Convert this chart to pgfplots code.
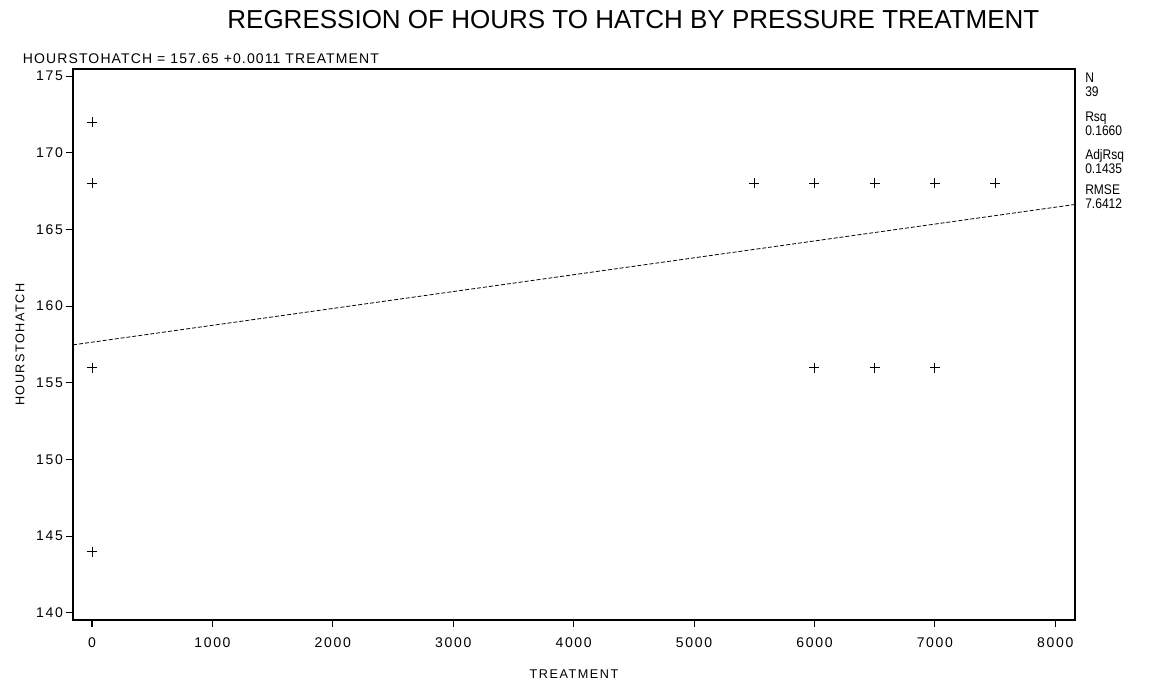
\documentclass[border=0pt]{standalone}
\usepackage{fontspec}
\setmainfont{Liberation Sans}
\usepackage{graphicx}
\usepackage{pgfplots}
\pgfplotsset{compat=1.18}
\newfontfamily\spaced[LetterSpace=12]{Liberation Sans}
\newfontfamily\spacedb[LetterSpace=8]{Liberation Sans}
\begin{document}
\begin{tikzpicture}[x=1pt,y=1pt]
% canvas 1153x684 px -> 864.75 x 513 pt (1px = 0.75pt)
\path[use as bounding box] (0,0) rectangle (864.75,513);
\begin{axis}[
  at={(54.75pt,48pt)}, anchor=south west,
  scale only axis, width=751.5pt, height=413.25pt,
  xmin=-158, xmax=8164, ymin=139.54, ymax=175.46,
  xtick={0,1000,...,8000}, ytick={140,145,...,175},
  axis line style={line width=0.9pt},
  tick style={black, line width=0.8pt},
  tick align=outside, major tick length=5pt,
  xtick pos=bottom, ytick pos=left,
  /pgf/number format/assume math mode=true,
  /pgf/number format/1000 sep={},
  tick label style={font=\spaced\fontsize{10.5}{12}\selectfont},
  xticklabel style={yshift=-4.5pt},
  yticklabel style={xshift=1pt},
  xlabel={TREATMENT}, ylabel={HOURSTOHATCH},
  label style={font=\spaced\fontsize{9.5}{11}\selectfont},
  xlabel style={yshift=-10pt},
  ylabel style={yshift=2pt},
  clip=true,
]
\addplot[only marks, mark=+, mark size=3.75pt, black, line width=0.6pt] coordinates {
 (0,172) (0,168) (0,156) (0,144)
 (5500,168) (6000,168) (6500,168) (7000,168) (7500,168)
 (6000,156) (6500,156) (7000,156)
};
\addplot[black, line width=0.6pt, dash pattern=on 3pt off 1.5pt] coordinates {(-158,157.476) (8164,166.630)};
\end{axis}
\node[font=\fontsize{19.5}{22}\selectfont, anchor=center] at (475,498) {REGRESSION OF HOURS TO HATCH BY PRESSURE TREATMENT};
\node[font=\spacedb\fontsize{10.5}{12}\selectfont, anchor=base west, inner sep=0pt] at (17,465.5) {HOURSTOHATCH = 157.65 +0.0011 TREATMENT};
\begin{scope}[every node/.style={font=\fontsize{9.5}{10}\selectfont, anchor=base west, inner sep=0pt}]
\node at (813.75,450.75) {\scalebox{0.95}[1.1]{N}};
\node at (813.75,440.25) {\scalebox{0.95}[1.1]{39}};
\node at (813.75,421.5) {\scalebox{0.95}[1.1]{Rsq}};
\node at (813.75,411.0) {\scalebox{0.95}[1.1]{0.1660}};
\node at (813.75,393) {\scalebox{0.95}[1.1]{AdjRsq}};
\node at (813.75,382.5) {\scalebox{0.95}[1.1]{0.1435}};
\node at (813.75,366.75) {\scalebox{0.95}[1.1]{RMSE}};
\node at (813.75,356.25) {\scalebox{0.95}[1.1]{7.6412}};
\end{scope}
\end{tikzpicture}
\end{document}
